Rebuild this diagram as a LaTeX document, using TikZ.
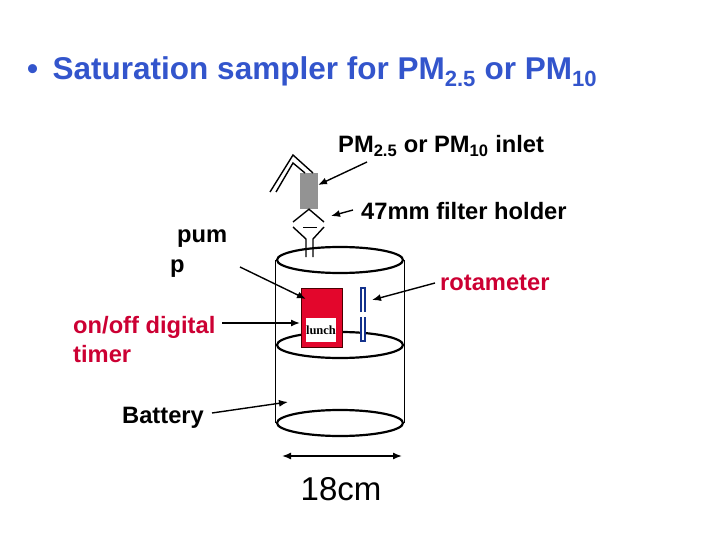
\documentclass[tikz,border=0pt]{standalone}
\usepackage{fontspec}
\setmainfont{Liberation Sans}
\newfontfamily\lunchfont{Liberation Serif}
\usetikzlibrary{shapes.geometric,arrows.meta}
\definecolor{titleblue}{RGB}{51,85,204}
\definecolor{labelred}{RGB}{204,0,51}
\definecolor{timerred}{RGB}{227,6,44}
\definecolor{rotablue}{RGB}{20,50,140}
\tikzset{
  can/.style={draw,ellipse,line width=2.2pt,minimum width=126pt,minimum height=26pt,inner sep=0pt},
  label/.style={inner sep=0pt,align=left,font=\bfseries\fontsize{23.7}{29}\selectfont},
  pointer/.style={-{Latex[length=9pt,width=7pt]},line width=1.4pt}
}
\begin{document}
\begin{tikzpicture}[x=1pt,y=-1pt]
  \useasboundingbox (0,0) rectangle (720,540);
  \node[inner sep=0pt,anchor=west,text=titleblue,font=\bfseries\fontsize{31.5}{36}\selectfont] (title) at (27,72)
    {\textbullet\hspace{14.5pt}Saturation sampler for PM\textsubscript{2.5} or PM\textsubscript{10}};
  \node[can] (top) at (340,260) {};
  \node[can] (middle) at (340,345) {};
  \node[can] (bottom) at (340,423) {};
  \draw[line width=1pt] (top.west) -- (bottom.west);
  \draw[line width=1pt] (top.east) -- (bottom.east);
  \node[fill=gray!85,minimum width=18pt,minimum height=36pt,inner sep=0pt] (inlet) at (309,191) {};
  \draw[line width=1.4pt]
    (270,192) coordinate (outerend) -- (293,155) coordinate (outerapex) -- (313,173) coordinate (outerfoot)
    (276,192) coordinate (innerend) -- (293,163) coordinate (innerapex) -- (305,173) coordinate (innerfoot);
  \draw[line width=1.4pt] (293,222) coordinate (holderleft) -- (inlet.south) -- (324,222) coordinate (holderright);
  \draw[line width=1.4pt] (293,227) coordinate (funnelleft) -- (306,239) coordinate (stemleft) -- (306,257) coordinate (stemleftend);
  \draw[line width=1.4pt] (324,227) coordinate (funnelright) -- (313,239) coordinate (stemright) -- (313,257) coordinate (stemrightend);
  \draw[line width=1pt] (303,228) coordinate (plateleft) -- (317,228) coordinate (plateright);
  \node[draw=black!70!red,fill=timerred,line width=0.8pt,minimum width=41pt,minimum height=59pt,inner sep=0pt] (timer) at (321.5,317.5) {};
  \node[fill=white,minimum width=30pt,minimum height=24pt,inner sep=0pt,font=\lunchfont\bfseries\fontsize{12.5}{14}\selectfont] (lunch) at (321,330) {lunch};
  \node[draw=rotablue,fill=white,line width=1.4pt,minimum width=4pt,minimum height=53pt,inner sep=0pt] (rotameter) at (363,314.5) {};
  \node[fill=white,minimum width=8pt,minimum height=5pt,inner sep=0pt] (rotagap) at (363,314.5) {};
  \node[label,anchor=west] (inletlabel) at (338,146)
    {PM\textsubscript{2.5} or PM\textsubscript{10} inlet};
  \node[label,anchor=west] (holderlabel) at (361,211) {47mm filter holder};
  \node[label,anchor=north west] (pumplabel) at (170,230) {\hspace{7pt}pum\\[1pt]p};
  \node[label,anchor=north west,text=labelred] (timerlabel) at (73,316) {on/off digital\\timer};
  \node[label,anchor=west,text=labelred] (rotalabel) at (440,283) {rotameter};
  \node[label,anchor=west] (batterylabel) at (122,418) {Battery};
  \node[anchor=center,inner sep=0pt,font=\fontsize{33}{36}\selectfont] (sizelabel) at (341,489) {18cm};
  \coordinate (inlettail) at (367,162);
  \coordinate (inlethead) at (318,185);
  \coordinate (holdertail) at (353,210);
  \coordinate (holderhead) at (331,216);
  \coordinate (pumptail) at (240,267);
  \coordinate (pumphead) at (306,299);
  \coordinate (timertail) at (222,323);
  \coordinate (timerhead) at (300,323);
  \coordinate (rotatail) at (435,283);
  \coordinate (rotahead) at (372,300);
  \coordinate (batterytail) at (212,413);
  \coordinate (batteryhead) at (288,402);
  \coordinate (sizeleft) at (282,456);
  \coordinate (sizeright) at (402,456);
  \begin{scope}[pointer]
    \draw (inlettail) to (inlethead);
    \draw (holdertail) to (holderhead);
    \draw (pumptail) to (pumphead);
    \draw (timertail) to (timerhead);
    \draw (rotatail) to (rotahead);
    \draw (batterytail) to (batteryhead);
    \draw[{Latex[length=9pt,width=7pt]}-{Latex[length=9pt,width=7pt]}] (sizeleft) to (sizeright);
  \end{scope}
\end{tikzpicture}
\end{document}
